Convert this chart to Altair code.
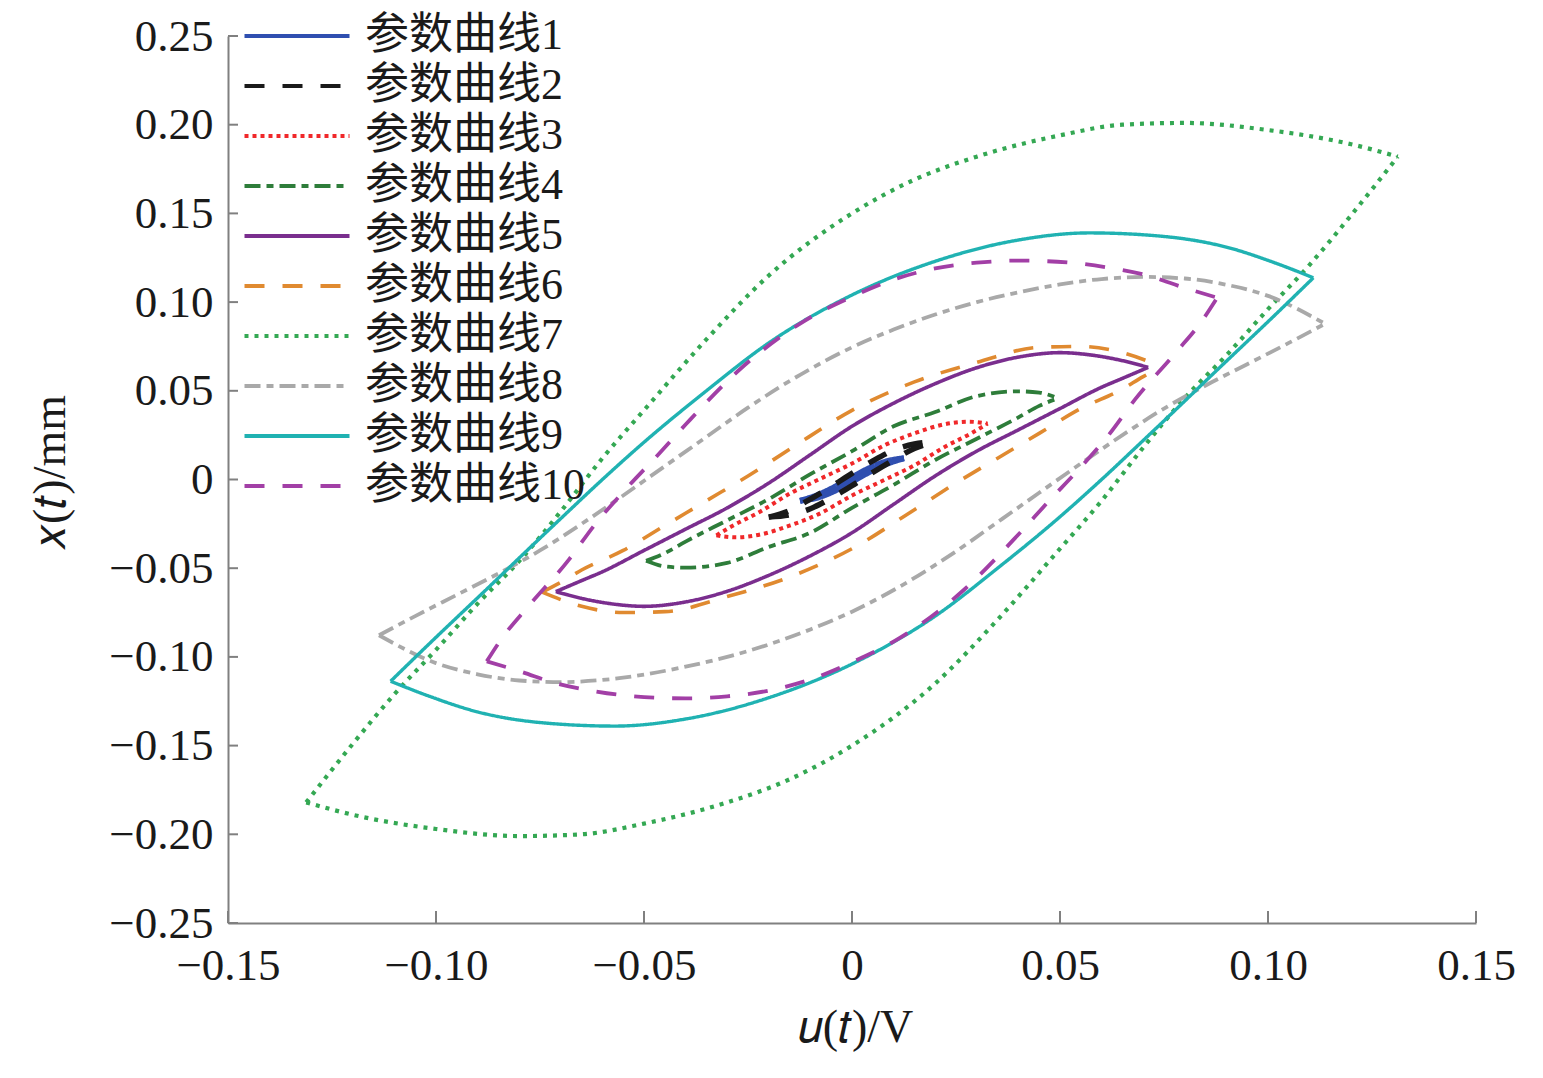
import altair as alt
import pandas as pd

# ---------------- data ----------------
names = [f"参数曲线{i}" for i in range(1, 11)]
colors = ["#2f4fb0", "#1a1a1a", "#f0282a", "#2e7d3a", "#7a2e8e",
          "#e08a30", "#34a853", "#a9a9a9", "#20b2b2", "#a23fa6"]
dashes = [[1, 0], [20, 18], [4, 4], [16, 6, 7, 6], [1, 0],
          [20, 18], [4, 6], [16, 6, 7, 6], [1, 0], [20, 18]]

x_ticks = [-0.15, -0.10, -0.05, 0.0, 0.05, 0.10, 0.15]
y_ticks = [-0.25, -0.20, -0.15, -0.10, -0.05, 0.0, 0.05, 0.10, 0.15, 0.20, 0.25]

# curve 1
U1u = [-0.0125, -0.008, -0.004, 0.0, 0.004, 0.008, 0.0125]
Y1u = [-0.0120, -0.0085, -0.0040, 0.0012, 0.0062, 0.0100, 0.0120]
U1d = [-0.0125, -0.008, -0.004, 0.0, 0.004, 0.008, 0.0125]
Y1d = [-0.0120, -0.0100, -0.0062, -0.0012, 0.0040, 0.0085, 0.0120]
# curve 2
U2u = [-0.020, -0.015, -0.010, -0.005, 0.0, 0.005, 0.010, 0.015, 0.020]
Y2u = [-0.0212, -0.0175, -0.0110, -0.0040, 0.0035, 0.0105, 0.0165, 0.0200, 0.0212]
U2d = [-0.020, -0.015, -0.010, -0.005, 0.0, 0.005, 0.010, 0.015, 0.020]
Y2d = [-0.0212, -0.0200, -0.0165, -0.0105, -0.0035, 0.0040, 0.0110, 0.0175, 0.0212]
# curve 3
U3u = [-0.0326, -0.029, -0.022, -0.015, -0.008, 0.0, 0.008, 0.015, 0.022, 0.028, 0.0326]
Y3u = [-0.0315, -0.0265, -0.0180, -0.0080, 0.0000, 0.0090, 0.0195, 0.0260, 0.0310, 0.0326, 0.0315]
U3d = [-0.0326, -0.028, -0.022, -0.015, -0.008, 0.0, 0.008, 0.015, 0.022, 0.029, 0.0326]
Y3d = [-0.0315, -0.0326, -0.0310, -0.0260, -0.0195, -0.0090, 0.0000, 0.0080, 0.0180, 0.0265, 0.0315]
# curve 4
U4u = [-0.0495, -0.045, -0.040, -0.030, -0.020, -0.010, 0.0, 0.010, 0.020, 0.030, 0.040, 0.045, 0.0495]
Y4u = [-0.0458, -0.0415, -0.0350, -0.0230, -0.0110, 0.0030, 0.0160, 0.0300, 0.0380, 0.0470, 0.0497, 0.0490, 0.0458]
U4d = [-0.0495, -0.045, -0.040, -0.030, -0.020, -0.010, 0.0, 0.010, 0.020, 0.030, 0.040, 0.045, 0.0495]
Y4d = [-0.0458, -0.0490, -0.0497, -0.0470, -0.0380, -0.0300, -0.0160, -0.0030, 0.0110, 0.0230, 0.0350, 0.0415, 0.0458]
# curve 5
U5u = [-0.0712, -0.065, -0.060, -0.050, -0.040, -0.030, -0.020, -0.010, 0.0, 0.010, 0.020, 0.030, 0.040, 0.050, 0.058, 0.065, 0.0712]
Y5u = [-0.0632, -0.0570, -0.0520, -0.0400, -0.0280, -0.0160, -0.0020, 0.0140, 0.0300, 0.0430, 0.0540, 0.0630, 0.0690, 0.0715, 0.0700, 0.0670, 0.0632]
U5d = [-0.0712, -0.065, -0.058, -0.050, -0.040, -0.030, -0.020, -0.010, 0.0, 0.010, 0.020, 0.030, 0.040, 0.050, 0.060, 0.065, 0.0712]
Y5d = [-0.0632, -0.0670, -0.0700, -0.0715, -0.0690, -0.0630, -0.0540, -0.0430, -0.0300, -0.0140, 0.0020, 0.0160, 0.0280, 0.0400, 0.0520, 0.0570, 0.0632]
# curve 6
U6u = [-0.0745, -0.070, -0.065, -0.055, -0.045, -0.035, -0.025, -0.015, 0.0, 0.015, 0.030, 0.045, 0.055, 0.065, 0.0745]
Y6u = [-0.0635, -0.0580, -0.0510, -0.0400, -0.0260, -0.0120, 0.0020, 0.0170, 0.0390, 0.0550, 0.0660, 0.0745, 0.0750, 0.0715, 0.0635]
U6d = [-0.0745, -0.065, -0.055, -0.045, -0.030, -0.015, 0.0, 0.015, 0.025, 0.035, 0.045, 0.055, 0.065, 0.070, 0.0745]
Y6d = [-0.0635, -0.0715, -0.0750, -0.0745, -0.0660, -0.0550, -0.0390, -0.0170, -0.0020, 0.0120, 0.0260, 0.0400, 0.0510, 0.0580, 0.0635]
# curve 7
U7u = [-0.1312, -0.12, -0.11, -0.10, -0.09, -0.08, -0.07, -0.06, -0.05, -0.035, -0.02, 0.0, 0.015, 0.03, 0.05, 0.065, 0.08, 0.10, 0.12, 0.1312]
Y7u = [-0.182, -0.149, -0.121, -0.096, -0.070, -0.046, -0.018, 0.012, 0.039, 0.079, 0.115, 0.150, 0.169, 0.182, 0.194, 0.200, 0.201, 0.197, 0.189, 0.182]
U7d = [-0.1312, -0.12, -0.10, -0.08, -0.065, -0.05, -0.03, -0.015, 0.0, 0.02, 0.035, 0.05, 0.06, 0.07, 0.08, 0.09, 0.10, 0.11, 0.12, 0.1312]
Y7d = [-0.182, -0.189, -0.197, -0.201, -0.200, -0.194, -0.182, -0.169, -0.150, -0.115, -0.079, -0.039, -0.012, 0.018, 0.046, 0.070, 0.096, 0.121, 0.149, 0.182]
# curve 8
U8u = [-0.1137, -0.105, -0.095, -0.085, -0.075, -0.065, -0.055, -0.045, -0.035, -0.025, -0.011, 0.0, 0.010, 0.020, 0.030, 0.040, 0.050, 0.060, 0.070, 0.080, 0.090, 0.100, 0.1137]
Y8u = [-0.0878, -0.0770, -0.0650, -0.0530, -0.0400, -0.0250, -0.0090, 0.0075, 0.0240, 0.0405, 0.0610, 0.0745, 0.0845, 0.0930, 0.1000, 0.1055, 0.1100, 0.1130, 0.1142, 0.1133, 0.1098, 0.1035, 0.0878]
U8d = [-0.1137, -0.100, -0.090, -0.080, -0.070, -0.060, -0.050, -0.040, -0.030, -0.020, -0.010, 0.0, 0.011, 0.025, 0.035, 0.045, 0.055, 0.065, 0.075, 0.085, 0.095, 0.105, 0.1137]
Y8d = [-0.0878, -0.1035, -0.1098, -0.1133, -0.1142, -0.1130, -0.1100, -0.1055, -0.1000, -0.0930, -0.0845, -0.0745, -0.0610, -0.0405, -0.0240, -0.0075, 0.0090, 0.0250, 0.0400, 0.0530, 0.0650, 0.0770, 0.0878]
# curve 9
U9u = [-0.1109, -0.1018, -0.087, -0.079, -0.070, -0.060, -0.050, -0.035, -0.020, 0.0, 0.020, 0.040, 0.057, 0.075, 0.090, 0.1018, 0.1109]
Y9u = [-0.1137, -0.0930, -0.0600, -0.0420, -0.0220, 0.0000, 0.0210, 0.0500, 0.0770, 0.1040, 0.1230, 0.1350, 0.1390, 0.1370, 0.1310, 0.1220, 0.1137]
U9d = [-0.1109, -0.1018, -0.090, -0.075, -0.057, -0.040, -0.020, 0.0, 0.020, 0.035, 0.050, 0.060, 0.070, 0.079, 0.087, 0.1018, 0.1109]
Y9d = [-0.1137, -0.1220, -0.1310, -0.1370, -0.1390, -0.1350, -0.1230, -0.1040, -0.0770, -0.0500, -0.0210, 0.0000, 0.0220, 0.0420, 0.0600, 0.0930, 0.1137]
# curve 10
U10u = [-0.0878, -0.084, -0.078, -0.068, -0.062, -0.055, -0.047, -0.040, -0.027, -0.011, 0.0, 0.010, 0.020, 0.030, 0.040, 0.053, 0.062, 0.071, 0.080, 0.0878]
Y10u = [-0.1025, -0.0890, -0.0720, -0.0450, -0.0260, -0.0070, 0.0130, 0.0310, 0.0620, 0.0900, 0.1030, 0.1127, 0.1190, 0.1222, 0.1234, 0.1221, 0.1193, 0.1150, 0.1080, 0.1025]
U10d = [-0.0878, -0.080, -0.071, -0.062, -0.053, -0.040, -0.030, -0.020, -0.010, 0.0, 0.011, 0.027, 0.040, 0.047, 0.055, 0.062, 0.068, 0.078, 0.084, 0.0878]
Y10d = [-0.1025, -0.1080, -0.1150, -0.1193, -0.1221, -0.1234, -0.1222, -0.1190, -0.1127, -0.1030, -0.0900, -0.0620, -0.0310, -0.0130, 0.0070, 0.0260, 0.0450, 0.0720, 0.0890, 0.1025]

branches = [
    (U1u, Y1u, U1d, Y1d), (U2u, Y2u, U2d, Y2d), (U3u, Y3u, U3d, Y3d),
    (U4u, Y4u, U4d, Y4d), (U5u, Y5u, U5d, Y5d), (U6u, Y6u, U6d, Y6d),
    (U7u, Y7u, U7d, Y7d), (U8u, Y8u, U8d, Y8d), (U9u, Y9u, U9d, Y9d),
    (U10u, Y10u, U10d, Y10d),
]
widths = [6, 5.5, 4.0, 3.8, 3.6, 3.6, 4.2, 3.8, 3.4, 3.8]

rows = []
for k, (uu, yu, ud, yd) in enumerate(branches):
    for b, (us, ys) in enumerate([(uu, yu), (ud, yd)]):
        for i, (u, y) in enumerate(zip(us, ys)):
            rows.append({"curve": names[k], "branch": f"{k}-{b}",
                         "i": i, "u": u, "x": y, "w": widths[k]})
df = pd.DataFrame(rows)

# ---------------- chart ----------------
W, H = 1248, 887
serif = "Liberation Serif"
cjk = "Liberation Serif, Noto Sans CJK SC"

xscale = alt.Scale(domain=[-0.15, 0.15], nice=False, zero=False)
yscale = alt.Scale(domain=[-0.25, 0.25], nice=False, zero=False)
label_expr = "datum.value == 0 ? '0' : format(datum.value, '.2f')"

legend = alt.Legend(
    title=None, orient="none", legendX=5, legendY=-22,
    symbolType="M-1,0H9", symbolSize=441, symbolStrokeWidth=4,
    labelFont=cjk, labelFontSize=44, labelColor="#1a1a1a",
    labelOffset=88, rowPadding=6, padding=0, labelLimit=400,
)

lines = alt.Chart(df).mark_line(interpolate="monotone", strokeCap="butt").encode(
    x=alt.X("u:Q", scale=xscale, axis=alt.Axis(
        values=x_ticks, labelExpr=label_expr, tickSize=0, grid=False,
        domainColor="#808080", domainWidth=2, labelFont=serif, labelFontSize=45,
        labelColor="#1a1a1a", labelPadding=20, labelFlush=False, labelOverlap=False,
        title="𝑢(𝑡)/V", titleFont=serif, titleFontSize=46, titleFontWeight="normal",
        titleColor="#1a1a1a", titleX=627, titleY=104, titleAlign="center",
        titleBaseline="middle")),
    y=alt.Y("x:Q", scale=yscale, axis=alt.Axis(
        values=y_ticks, labelExpr=label_expr, tickSize=0, grid=False,
        domainColor="#808080", domainWidth=2, labelFont=serif, labelFontSize=45,
        labelColor="#1a1a1a", labelPadding=15, labelFlush=False, labelOverlap=False,
        title="𝑥(𝑡)/mm", titleFont=serif, titleFontSize=46, titleFontWeight="normal",
        titleColor="#1a1a1a", titleX=-178, titleY=436, titleAngle=-90,
        titleAlign="center", titleBaseline="middle")),
    color=alt.Color("curve:N", scale=alt.Scale(domain=names, range=colors),
                    sort=names, legend=legend),
    strokeDash=alt.StrokeDash("curve:N", scale=alt.Scale(domain=names, range=dashes),
                              sort=names, legend=legend),
    strokeWidth=alt.StrokeWidth("w:Q", scale=None, legend=None),
    detail="branch:N",
    order="i:Q",
)

ytick_df = pd.DataFrame({"t": y_ticks})
xtick_df = pd.DataFrame({"t": x_ticks})

yticks = alt.Chart(ytick_df).mark_rule(color="#808080", strokeWidth=2).encode(
    y=alt.Y("t:Q", scale=yscale), x=alt.value(0), x2=alt.value(10))
xticks = alt.Chart(xtick_df).mark_rule(color="#808080", strokeWidth=2).encode(
    x=alt.X("t:Q", scale=xscale), y=alt.value(H), y2=alt.value(H - 12))

chart = alt.layer(yticks, xticks, lines).properties(
    width=W, height=H,
    background="white",
    autosize=alt.AutoSizeParams(type="none"),
    padding={"left": 220, "top": 28, "right": 50, "bottom": 140},
).configure_view(stroke=None, strokeWidth=0)

chart.save("out.html", embed_options={"renderer": "svg", "actions": False})
